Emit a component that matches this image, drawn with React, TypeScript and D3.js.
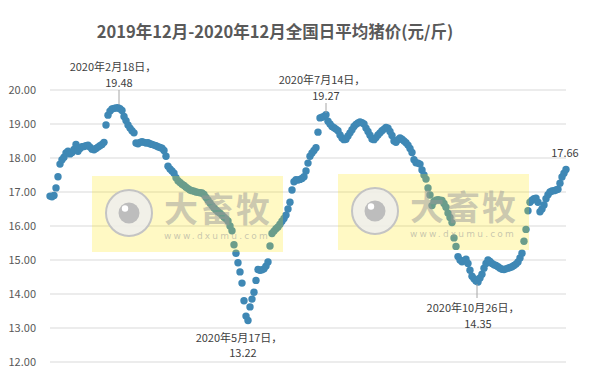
import React from "react";
import * as d3 from "d3";

// Daily average hog price (元/斤), Dec 2019 – Dec 2020, sampled along the series
const prices: number[] = [
  16.88, 16.86, 16.9, 17.12, 17.45, 17.82, 17.95, 18.02, 18.15, 18.2,
  18.12, 18.16, 18.25, 18.4, 18.2, 18.28, 18.33, 18.34, 18.36, 18.38,
  18.32, 18.26, 18.24, 18.28, 18.32, 18.36, 18.4, 18.46, 18.97, 19.26,
  19.38, 19.44, 19.46, 19.47, 19.48, 19.45, 19.4, 19.22, 19.1, 18.97,
  18.88, 18.8, 18.74, 18.44, 18.42, 18.46, 18.48, 18.46, 18.44, 18.45,
  18.42, 18.4, 18.38, 18.36, 18.33, 18.31, 18.29, 18.22, 18.05, 17.76,
  17.68, 17.62, 17.55, 17.42, 17.33, 17.28, 17.23, 17.19, 17.14, 17.1,
  17.06, 17.04, 17.02, 17.0, 16.99, 16.98, 16.97, 16.93, 16.84, 16.76,
  16.68, 16.6, 16.53, 16.47, 16.42, 16.38, 16.32, 16.26, 16.21, 16.15,
  16.0, 15.86, 15.45, 15.2, 14.92, 14.65, 14.32, 13.8, 13.35, 13.22,
  13.62, 13.85, 14.05, 14.4, 14.72, 14.7, 14.71, 14.74, 14.82, 14.94,
  15.41, 15.78, 15.85, 15.92, 15.97, 16.05, 16.14, 16.22, 16.32, 16.5,
  16.7, 17.06, 17.3, 17.36, 17.35, 17.37, 17.4, 17.45, 17.62, 17.85,
  18.05, 18.15, 18.22, 18.3, 18.76, 19.18, 19.2, 19.22, 19.27, 19.08,
  19.0, 18.93, 18.89, 18.85, 18.8, 18.68, 18.59, 18.54, 18.55, 18.65,
  18.74, 18.83, 18.93, 18.99, 19.03, 19.06, 19.04, 19.0, 18.88, 18.78,
  18.67, 18.56, 18.54, 18.6, 18.68, 18.74, 18.8, 18.85, 18.9, 18.88,
  18.78, 18.66, 18.5, 18.46, 18.54, 18.59, 18.55, 18.5, 18.45, 18.38,
  18.28, 18.16, 17.95, 17.86, 17.85, 17.82, 17.65, 17.5, 17.38, 17.12,
  16.91, 16.6, 16.72, 16.76, 16.77, 16.76, 16.75, 16.66, 16.55, 16.38,
  16.25, 16.1, 15.65, 15.4, 15.1, 15.0, 14.95, 14.98, 15.02, 14.9,
  14.7, 14.52, 14.45, 14.38, 14.35, 14.47, 14.58, 14.76, 14.9, 15.0,
  14.96, 14.9, 14.86, 14.84, 14.8, 14.76, 14.73, 14.72, 14.74, 14.76,
  14.78, 14.8, 14.84, 14.88, 14.94, 15.06, 15.2, 15.55, 15.9, 16.45,
  16.7, 16.76, 16.8, 16.82, 16.7, 16.42, 16.5, 16.62, 16.8, 16.92,
  17.0, 17.03, 17.04, 17.06, 17.08, 17.26, 17.44, 17.55, 17.66,
];

const yTicks: number[] = [12, 13, 14, 15, 16, 17, 18, 19, 20];
const title = "2019年12月-2020年12月全国日平均猪价(元/斤)";

const annotationIndex: number[] = [34, 99, 138, 214, 258];
const annotationDate: string[] = ["2020年2月18日，", "2020年5月17日，", "2020年7月14日，", "2020年10月26日，", ""];
const annotationValue: string[] = ["19.48", "13.22", "19.27", "14.35", "17.66"];

const watermarkText = "大畜牧";
const watermarkUrl = "www.dxumu.com";

const FONT = "'Noto Sans CJK SC', 'Noto Sans', sans-serif";

function Watermark({ left, top }: { left: number; top: number }) {
  return (
    <g transform={`translate(${left},${top})`}>
      <rect x={0} y={0} width={191} height={76} fill="#ffe600" opacity={0.23} />
      <circle cx={37} cy={37} r={23} fill="#eeeeee" fillOpacity={0.85} stroke="#c4c4c4" strokeWidth={2} />
      <circle cx={37} cy={37} r={10.5} fill="#bdbdbd" />
      <circle cx={33} cy={32.5} r={3.2} fill="#ffffff" />
      <text x={72} y={46} fontFamily={FONT} fontWeight={700} fontSize={34} fill="#9a9a9a" fillOpacity={0.5}
        letterSpacing={2}>{watermarkText}</text>
      <text x={72} y={63} fontFamily="'DejaVu Sans', sans-serif" fontSize={9} fill="#9a9a9a" fillOpacity={0.55}
        letterSpacing={2.2}>{watermarkUrl}</text>
    </g>
  );
}

export default function App() {
  const W = 594;
  const H = 381;
  const x = d3.scaleLinear().domain([0, prices.length - 1]).range([50, 566]);
  const y = d3.scaleLinear().domain([12, 20]).range([362, 90]);

  const annos = annotationIndex.map((idx, k) => ({
    idx,
    px: x(idx),
    py: y(prices[idx]),
    date: annotationDate[k],
    value: annotationValue[k],
  }));

  return (
    <svg width={W} height={H} style={{ position: "absolute", left: 0, top: 0, background: "#fff" }}
      fontFamily={FONT}>
      <rect x={0} y={0} width={W} height={H} fill="#ffffff" />
      <text x={275} y={38} textAnchor="middle" fontSize={16.5} fontWeight={700} fill="#595959">{title}</text>

      {yTicks.map((t) => (
        <g key={t}>
          <line x1={50} x2={566} y1={y(t)} y2={y(t)} stroke="#d9d9d9" strokeWidth={1} />
          <text x={36} y={y(t)} dy="0.35em" textAnchor="end" fontSize={11} fill="#595959">{t.toFixed(2)}</text>
        </g>
      ))}

      {prices.map((v, i) => (
        <circle key={i} cx={x(i)} cy={y(v)} r={3.7} fill="#3f88b5" />
      ))}

      <Watermark left={92} top={176} />
      <Watermark left={338} top={174} />

      {/* Feb 18 peak */}
      <text x={annos[0].px - 5} y={71} textAnchor="middle" fontSize={11} fill="#404040">{annos[0].date}</text>
      <text x={annos[0].px + 1} y={87} textAnchor="middle" fontSize={11} fill="#404040">{annos[0].value}</text>
      <line x1={annos[0].px + 1} x2={annos[0].px + 1} y1={90} y2={annos[0].py - 3} stroke="#a6a6a6" />

      {/* May 17 low */}
      <text x={annos[1].px - 9} y={342} textAnchor="middle" fontSize={11} fill="#404040">{annos[1].date}</text>
      <text x={annos[1].px - 5} y={357} textAnchor="middle" fontSize={11} fill="#404040">{annos[1].value}</text>

      {/* Jul 14 peak */}
      <text x={annos[2].px - 4} y={84} textAnchor="middle" fontSize={11} fill="#404040">{annos[2].date}</text>
      <text x={annos[2].px} y={100} textAnchor="middle" fontSize={11} fill="#404040">{annos[2].value}</text>
      <line x1={annos[2].px} x2={annos[2].px} y1={103} y2={annos[2].py - 2} stroke="#a6a6a6" />

      {/* Oct 26 low */}
      <line x1={annos[3].px - 1} x2={annos[3].px - 1} y1={annos[3].py + 2} y2={298} stroke="#a6a6a6" />
      <text x={annos[3].px - 5} y={312} textAnchor="middle" fontSize={11} fill="#404040">{annos[3].date}</text>
      <text x={annos[3].px} y={328} textAnchor="middle" fontSize={11} fill="#404040">{annos[3].value}</text>

      {/* last value */}
      <text x={annos[4].px - 1} y={157} textAnchor="middle" fontSize={11} fill="#404040">{annos[4].value}</text>
    </svg>
  );
}
